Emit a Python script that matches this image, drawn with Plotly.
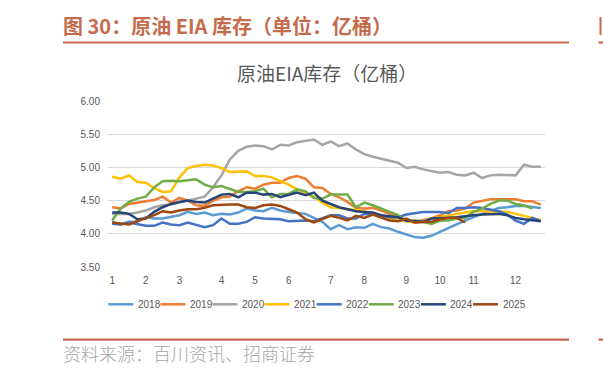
import plotly.graph_objects as go

# ---------------- data ----------------
years = ["2018", "2019", "2020", "2021", "2022", "2023", "2024", "2025"]
colors = ["#5B9BD5", "#ED7D31", "#A5A5A5", "#FFC000", "#4472C4", "#70AD47", "#264478", "#9E480E"]

s2018 = [4.18, 4.14, 4.18, 4.18, 4.25, 4.23, 4.23, 4.25, 4.28, 4.33,
         4.30, 4.32, 4.28, 4.30, 4.29, 4.32, 4.38, 4.35, 4.34, 4.39,
         4.35, 4.33, 4.31, 4.30, 4.24, 4.18, 4.07, 4.13, 4.07, 4.10,
         4.09, 4.15, 4.10, 4.08, 4.03, 3.99, 3.95, 3.94, 3.97, 4.03,
         4.09, 4.15, 4.20, 4.25, 4.30, 4.35, 4.39, 4.40, 4.42, 4.42,
         4.40, 4.39]
s2019 = [4.40, 4.38, 4.45, 4.47, 4.48, 4.51, 4.56, 4.47, 4.54, 4.50,
         4.43, 4.42, 4.50, 4.55, 4.56, 4.64, 4.70, 4.68, 4.74, 4.77,
         4.77, 4.84, 4.87, 4.83, 4.70, 4.69, 4.60, 4.55, 4.48, 4.39,
         4.38, 4.39, 4.35, 4.30, 4.25, 4.20, 4.18, 4.20, 4.23, 4.28,
         4.34, 4.35, 4.38, 4.47, 4.50, 4.52, 4.52, 4.52, 4.52, 4.49,
         4.49, 4.44]
s2020 = [4.30, 4.30, 4.30, 4.32, 4.35, 4.40, 4.43, 4.44, 4.47, 4.50,
         4.53, 4.56, 4.70, 4.88, 5.12, 5.25, 5.31, 5.33, 5.32, 5.27,
         5.34, 5.33, 5.38, 5.40, 5.42, 5.34, 5.39, 5.32, 5.36, 5.27,
         5.20, 5.16, 5.13, 5.11, 5.07, 4.99, 5.01, 4.97, 4.94, 4.92,
         4.93, 4.89, 4.88, 4.92, 4.84, 4.88, 4.89, 4.89, 4.88, 5.04,
         5.01, 5.01]
s2021 = [4.86, 4.83, 4.88, 4.78, 4.77, 4.69, 4.63, 4.64, 4.85, 4.99,
         5.02, 5.04, 5.03, 4.99, 4.93, 4.94, 4.94, 4.87, 4.87, 4.85,
         4.80, 4.74, 4.67, 4.62, 4.56, 4.47, 4.40, 4.39, 4.37, 4.36,
         4.34, 4.30, 4.28, 4.24, 4.20, 4.19, 4.17, 4.19, 4.23, 4.25,
         4.28, 4.30, 4.32, 4.34, 4.34, 4.34, 4.34, 4.33, 4.30, 4.27,
         4.24, 4.21]
s2022 = [4.15, 4.14, 4.17, 4.15, 4.12, 4.12, 4.17, 4.14, 4.13, 4.17,
         4.14, 4.10, 4.13, 4.23, 4.15, 4.15, 4.18, 4.25, 4.23, 4.22,
         4.22, 4.19, 4.20, 4.20, 4.19, 4.24, 4.28, 4.28, 4.23, 4.23,
         4.30, 4.30, 4.28, 4.25, 4.25, 4.29, 4.31, 4.33, 4.33, 4.33,
         4.31, 4.39, 4.39, 4.40, 4.39, 4.37, 4.34, 4.29, 4.20, 4.15,
         4.24, 4.19]
s2023 = [4.20, 4.38, 4.48, 4.53, 4.56, 4.70, 4.79, 4.80, 4.79, 4.80,
         4.82, 4.74, 4.70, 4.72, 4.67, 4.63, 4.63, 4.64, 4.68, 4.55,
         4.60, 4.60, 4.67, 4.64, 4.54, 4.53, 4.59, 4.59, 4.59, 4.40,
         4.47, 4.43, 4.38, 4.33, 4.28, 4.19, 4.20, 4.18, 4.15, 4.20,
         4.20, 4.23, 4.24, 4.33, 4.38, 4.45, 4.50, 4.50, 4.45, 4.43,
         4.38]
s2024 = [4.32, 4.32, 4.30, 4.22, 4.23, 4.33, 4.40, 4.45, 4.48, 4.50,
         4.48, 4.47, 4.53, 4.59, 4.60, 4.55, 4.62, 4.62, 4.59, 4.60,
         4.55, 4.58, 4.62, 4.58, 4.62, 4.50, 4.45, 4.40, 4.37, 4.34,
         4.33, 4.32, 4.28, 4.27, 4.25, 4.20, 4.19, 4.18, 4.23, 4.23,
         4.24, 4.25, 4.27, 4.28, 4.29, 4.30, 4.30, 4.28, 4.24, 4.22,
         4.20, 4.19]
s2025 = [4.17, 4.15, 4.14, 4.19, 4.23, 4.28, 4.34, 4.32, 4.35, 4.37,
         4.37, 4.39, 4.43, 4.44, 4.44, 4.44, 4.40, 4.39, 4.43, 4.44,
         4.42, 4.37, 4.32, 4.22, 4.17, 4.22, 4.27, 4.24, 4.20, 4.27,
         4.24, 4.29, 4.25, 4.20, 4.19, 4.23, 4.17, 4.17, 4.18, 4.22,
         4.24, 4.24, 4.17]
series = [s2018, s2019, s2020, s2021, s2022, s2023, s2024, s2025]

# month tick labels placed at the week index where each month starts
month_labels = ["1", "2", "3", "4", "5", "6", "7", "8", "9", "10", "11", "12"]
month_week_idx = [0, 4, 8, 13, 17, 21, 26, 30, 35, 39, 43, 48]
n_weeks = 52

header_text = "图 30：原油 EIA 库存（单位：亿桶）"
chart_title = "原油EIA库存（亿桶）"
source_text = "资料来源：百川资讯、招商证券"

# ---------------- layout helpers ----------------
W, H = 603, 371
ML, MR, MT, MB = 108, 58, 101, 104
PW, PH = W - ML - MR, H - MT - MB


def fx(px):
    return (px - ML) / PW


def fy(py):
    return (H - MB - py) / PH


ACCENT = "#C56B4C"
TICK_FONT = dict(family="Liberation Sans, Arial, sans-serif", size=10, color="#595959")
CJK = "Noto Sans CJK SC, sans-serif"

fig = go.Figure()
for name, col, vals in zip(years, colors, series):
    fig.add_trace(go.Scatter(
        x=list(range(len(vals))), y=vals, mode="lines", name=name,
        line=dict(color=col, width=2.5), showlegend=False,
        hoverinfo="x+y+name",
    ))

shapes = []
annotations = []

# header
annotations.append(dict(text=header_text, x=fx(61), y=fy(25), xref="paper", yref="paper",
                        xanchor="left", yanchor="middle", showarrow=False,
                        font=dict(family=CJK, size=20, color=ACCENT, weight="bold")))
shapes.append(dict(type="line", xref="paper", yref="paper", x0=fx(63), x1=fx(569),
                   y0=fy(42.5), y1=fy(42.5), line=dict(color=ACCENT, width=2.2)))
shapes.append(dict(type="line", xref="paper", yref="paper", x0=fx(598.5), x1=fx(604),
                   y0=fy(42.5), y1=fy(42.5), line=dict(color=ACCENT, width=2.2)))
shapes.append(dict(type="line", xref="paper", yref="paper", x0=fx(600.5), x1=fx(600.5),
                   y0=fy(17), y1=fy(35), line=dict(color=ACCENT, width=2)))

# chart title
annotations.append(dict(text=chart_title, x=fx(327), y=fy(73), xref="paper", yref="paper",
                        xanchor="center", yanchor="middle", showarrow=False,
                        font=dict(family=CJK, size=19, color="#595959")))

# footer
shapes.append(dict(type="line", xref="paper", yref="paper", x0=fx(63), x1=fx(569),
                   y0=fy(339.6), y1=fy(339.6), line=dict(color=ACCENT, width=2.2)))
shapes.append(dict(type="line", xref="paper", yref="paper", x0=fx(598.5), x1=fx(604),
                   y0=fy(339.6), y1=fy(339.6), line=dict(color=ACCENT, width=2.2)))
annotations.append(dict(text=source_text, x=fx(61), y=fy(353), xref="paper", yref="paper",
                        xanchor="left", yanchor="middle", showarrow=False,
                        font=dict(family=CJK, size=18, color="#A6A6A6", weight=300)))

# legend (drawn manually to match compact Excel layout)
LEG_Y = 304.3
for k, (name, col) in enumerate(zip(years, colors)):
    x0 = 108.3 + 52.1 * k
    shapes.append(dict(type="line", xref="paper", yref="paper", x0=fx(x0), x1=fx(x0 + 25),
                       y0=fy(LEG_Y), y1=fy(LEG_Y), line=dict(color=col, width=2.5)))
    annotations.append(dict(text=name, x=fx(x0 + 27.5), y=fy(LEG_Y), xref="paper", yref="paper",
                            xanchor="left", yanchor="middle", showarrow=False,
                            font=TICK_FONT))

fig.update_layout(
    width=W, height=H,
    margin=dict(l=ML, r=MR, t=MT, b=MB, autoexpand=False),
    paper_bgcolor="white", plot_bgcolor="white",
    showlegend=False,
    shapes=shapes, annotations=annotations,
    xaxis=dict(range=[-0.5, n_weeks - 0.5], tickmode="array",
               tickvals=month_week_idx, ticktext=month_labels,
               showgrid=False, zeroline=False, showline=False,
               ticks="outside", ticklen=4, tickcolor="rgba(0,0,0,0)",
               tickfont=TICK_FONT, fixedrange=True),
    yaxis=dict(range=[3.5, 6.0], dtick=0.5, tick0=3.5, tickformat=".2f",
               showgrid=True, gridcolor="#D9D9D9", gridwidth=1,
               zeroline=False, showline=False,
               ticks="outside", ticklen=5, tickcolor="rgba(0,0,0,0)",
               tickfont=TICK_FONT, fixedrange=True),
)

fig.write_html("out.html", config={"displayModeBar": False},
               post_script="document.body.style.margin='0';document.body.style.overflow='hidden';")
